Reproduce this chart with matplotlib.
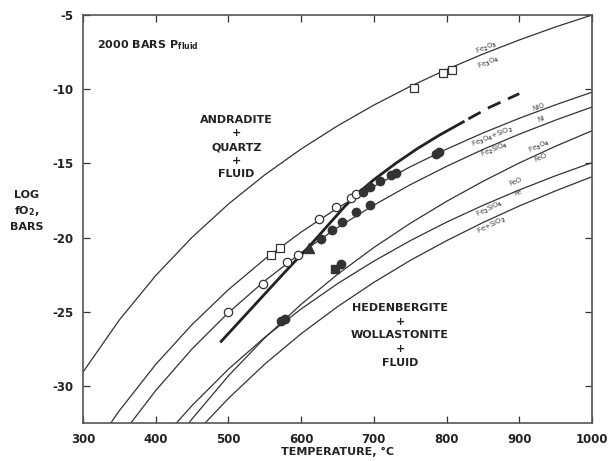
import matplotlib
matplotlib.use('Agg')
import matplotlib.pyplot as plt

# buffer curves, log fO2
hm_t = [300, 350, 400, 450, 500, 550, 600, 650, 700, 750, 800, 850, 900, 950, 1000]
hm_y = [-29.07, -25.55, -22.56, -19.98, -17.74, -15.77, -14.03, -12.47, -11.07,
        -9.81, -8.67, -7.63, -6.68, -5.80, -5.00]

nno_t = [330, 350, 400, 450, 500, 550, 600, 650, 700, 750, 800, 850, 900, 950, 1000]
nno_y = [-33.07, -31.67, -28.55, -25.86, -23.51, -21.45, -19.63, -18.01, -16.55,
         -15.23, -14.04, -12.95, -11.96, -11.05, -10.20]

fmq_t = [360, 400, 450, 500, 550, 600, 650, 700, 750, 800, 850, 900, 950, 1000]
fmq_y = [-32.87, -30.31, -27.50, -25.06, -22.92, -21.02, -19.33, -17.81, -16.44,
         -15.20, -14.06, -13.03, -12.08, -11.20]

mw_t = [440, 450, 500, 550, 600, 650, 700, 750, 800, 850, 900, 950, 1000]
mw_y = [-32.86, -32.22, -29.32, -26.76, -24.50, -22.48, -20.67, -19.04, -17.56,
        -16.21, -14.97, -13.84, -12.80]

iw_t = [420, 450, 500, 550, 600, 650, 700, 750, 800, 850, 900, 950, 1000]
iw_y = [-32.96, -31.32, -28.87, -26.72, -24.81, -23.11, -21.59, -20.21, -18.96,
        -17.83, -16.79, -15.83, -14.95]

qif_t = [460, 500, 550, 600, 650, 700, 750, 800, 850, 900, 950, 1000]
qif_y = [-32.91, -30.84, -28.53, -26.48, -24.66, -23.02, -21.54, -20.21, -18.99,
         -17.87, -16.85, -15.90]

# andradite breakdown curve (solid part, then dashed extrapolation)
adr_t = [490, 520, 550, 580, 611, 640, 660, 682, 700, 730, 760, 790, 823]
adr_y = [-27.0, -25.4, -23.8, -22.2, -20.6, -19.0, -17.9, -16.85, -16.1, -15.0,
         -14.0, -13.1, -12.2]
adr_dash_t = [830, 860, 900]
adr_dash_y = [-12.0, -11.2, -10.3]

# experimental runs
open_sq_t = [755, 795, 807, 558, 571]
open_sq_y = [-9.9, -8.9, -8.7, -21.2, -20.7]
open_ci_t = [624, 648, 668, 675, 500, 547, 581, 595]
open_ci_y = [-18.75, -17.95, -17.3, -17.05, -25.05, -23.1, -21.65, -21.15]
fill_ci_t = [685, 694, 708, 723, 730, 786, 790, 627, 643, 656, 675, 695, 572, 578, 655]
fill_ci_y = [-16.95, -16.6, -16.2, -15.8, -15.65, -14.35, -14.25, -20.1, -19.5,
             -18.95, -18.3, -17.8, -25.6, -25.5, -21.8]
fill_tri_t = [611]
fill_tri_y = [-20.7]
fill_sq_t = [647]
fill_sq_y = [-22.15]

xticks = [300, 400, 500, 600, 700, 800, 900, 1000]
yticks = [-5, -10, -15, -20, -25, -30]

plt.rcParams.update({'font.family': 'DejaVu Sans', 'font.weight': 'bold',
                     'axes.unicode_minus': False})
fig = plt.figure(figsize=(6.09, 4.61), dpi=100)
ax = fig.add_axes([0.1363, 0.0824, 0.8358, 0.885])

lc = '#333333'
for t, y in [(hm_t, hm_y), (nno_t, nno_y), (fmq_t, fmq_y), (mw_t, mw_y),
             (iw_t, iw_y), (qif_t, qif_y)]:
    ax.plot(t, y, color=lc, lw=0.9, zorder=2)

ax.plot(adr_t, adr_y, color='#222222', lw=2.0, zorder=3)
ax.plot(adr_dash_t, adr_dash_y, color='#222222', lw=2.0, dashes=(5, 3), zorder=3)

ax.plot(open_sq_t, open_sq_y, 's', ms=6, mfc='white', mec='#333333', mew=0.9, zorder=4)
ax.plot(open_ci_t, open_ci_y, 'o', ms=6, mfc='white', mec='#333333', mew=0.9, zorder=4)
ax.plot(fill_ci_t, fill_ci_y, 'o', ms=6, mfc='#333333', mec='#333333', zorder=4)
ax.plot(fill_tri_t, fill_tri_y, '^', ms=7, mfc='#333333', mec='#333333', zorder=4)
ax.plot(fill_sq_t, fill_sq_y, 's', ms=6, mfc='#333333', mec='#333333', zorder=4)

# buffer labels
lab = dict(fontsize=5, color='#444444', ha='center', va='center', fontweight='normal')
ax.text(855, -7.25, r'Fe$_2$O$_3$', rotation=22, **lab)
ax.text(858, -8.25, r'Fe$_3$O$_4$', rotation=22, **lab)
ax.text(927, -11.2, 'NiO', rotation=20, **lab)
ax.text(930, -12.0, 'Ni', rotation=20, **lab)
ax.text(863, -13.25, r'Fe$_3$O$_4$+SiO$_2$', rotation=22, **lab)
ax.text(866, -14.1, r'Fe$_2$SiO$_4$', rotation=22, **lab)
ax.text(927, -13.85, r'Fe$_3$O$_4$', rotation=24, **lab)
ax.text(930, -14.6, 'FeO', rotation=24, **lab)
ax.text(895, -16.2, 'FeO', rotation=23, **lab)
ax.text(898, -17.0, 'Fe', rotation=23, **lab)
ax.text(859, -18.1, r'Fe$_2$SiO$_4$', rotation=26, **lab)
ax.text(862, -19.2, r'Fe+SiO$_2$', rotation=26, **lab)

ax.text(319, -7.0, r'2000 BARS P$_{\mathbf{fluid}}$', fontsize=8, color='#222222',
        ha='left', va='center')
ax.text(511, -13.9, 'ANDRADITE\n+\nQUARTZ\n+\nFLUID', fontsize=8, color='#222222',
        ha='center', va='center', linespacing=1.45)
ax.text(736, -26.6, 'HEDENBERGITE\n+\nWOLLASTONITE\n+\nFLUID', fontsize=8,
        color='#222222', ha='center', va='center', linespacing=1.45)

ax.set_xlim(300, 1000)
ax.set_ylim(-32.5, -5)
ax.set_xticks(xticks)
ax.set_yticks(yticks)
ax.tick_params(direction='in', top=True, right=True, length=5, width=0.9,
               labelsize=8.5, pad=7, colors='#333333', labelcolor='#222222')
for s in ax.spines.values():
    s.set_linewidth(1.2)
    s.set_color('#555555')

fig.text(27 / 609, 1 - 211 / 461, 'LOG\nfO$_2$,\nBARS', fontsize=8, color='#222222',
         ha='center', va='center', linespacing=1.5)
fig.text(338 / 609, 1 - 452 / 461, 'TEMPERATURE, °C', fontsize=8, color='#222222',
         ha='center', va='center')

fig.savefig('out.png', dpi=100)
